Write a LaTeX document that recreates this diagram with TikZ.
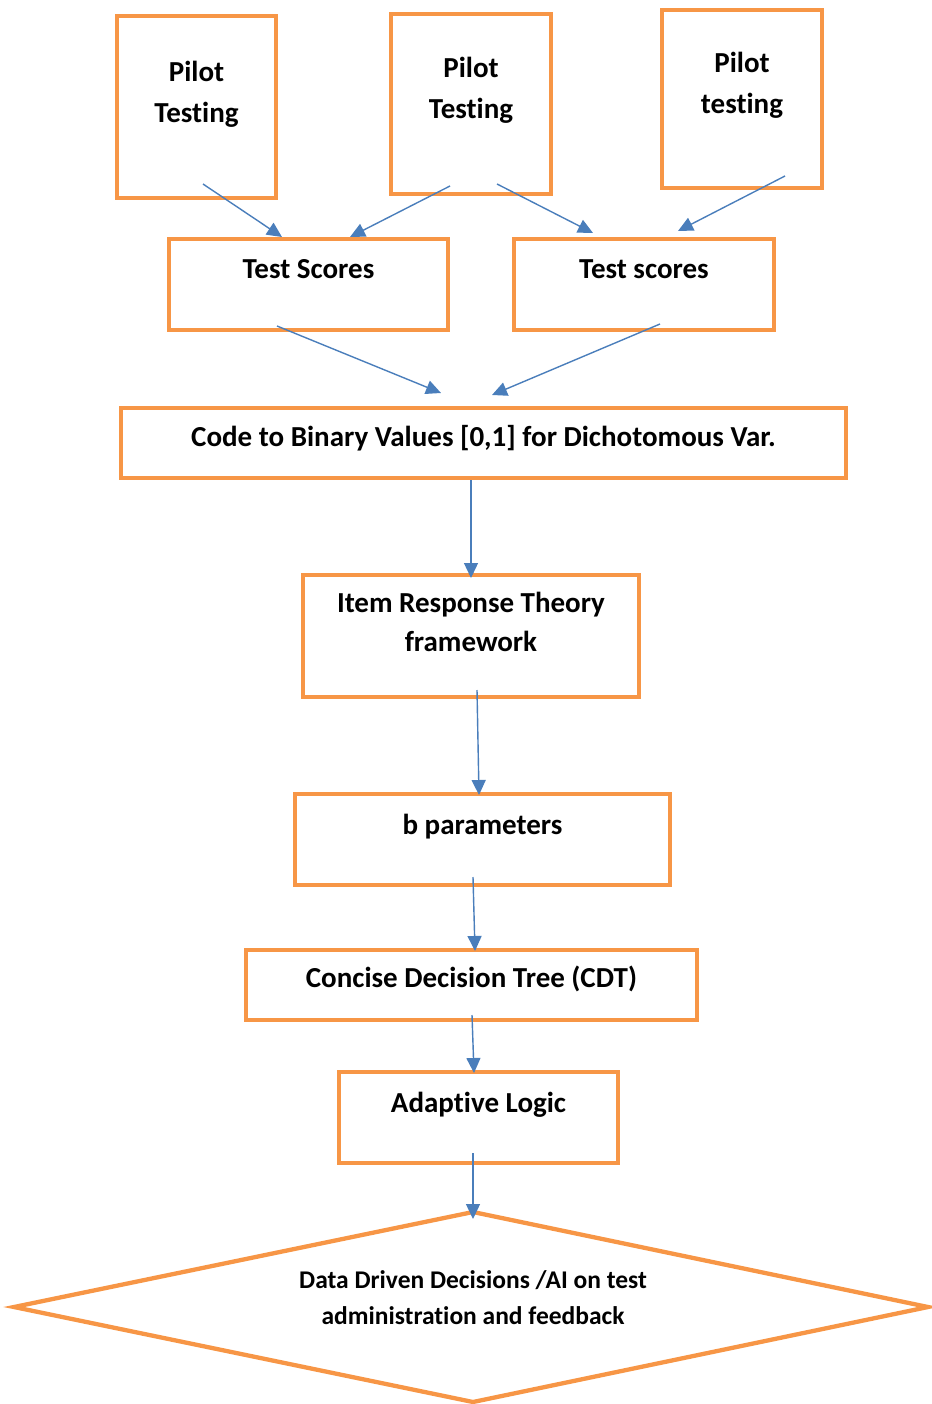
\documentclass[tikz,border=0pt]{standalone}
\usepackage{fontspec}
\setmainfont{Carlito}[Ligatures=NoCommon]
\usetikzlibrary{arrows.meta}
\definecolor{boxorange}{HTML}{F79646}
\definecolor{arrowblue}{HTML}{4A7EBB}
\begin{document}
\begin{tikzpicture}[x=1pt,y=-1pt,
  box/.style={draw=boxorange,line width=4.3pt,rectangle,inner sep=0pt},
  txt/.style={font=\fontsize{29}{41}\selectfont\bfseries,align=center,anchor=base,inner sep=0pt},
  dtxt/.style={font=\fontsize{25.5}{36}\selectfont\bfseries,align=center,anchor=base,inner sep=0pt},
  arr/.style={draw=arrowblue,line width=1.4pt,-{Triangle[length=15pt,width=14pt]}}]
\useasboundingbox (0,0) rectangle (931,1404);
% boxes
\node[box,minimum width=159pt,minimum height=182pt] (p1) at (196.5,107) {};
\node[box,minimum width=160pt,minimum height=180pt] (p2) at (471,104) {};
\node[box,minimum width=160pt,minimum height=178pt] (p3) at (742,99) {};
\node[box,minimum width=279pt,minimum height=91pt] (ts1) at (308.5,284.5) {};
\node[box,minimum width=260pt,minimum height=91pt] (ts2) at (644,284.5) {};
\node[box,minimum width=725pt,minimum height=70pt] (code) at (483.5,443) {};
\node[box,minimum width=336pt,minimum height=122pt] (irt) at (471,636) {};
\node[box,minimum width=375pt,minimum height=91pt] (bpar) at (482.5,839.5) {};
\node[box,minimum width=451pt,minimum height=70pt] (cdt) at (471.5,985) {};
\node[box,minimum width=279pt,minimum height=91pt] (adl) at (478.5,1117.5) {};
\coordinate (dtop) at (473,1212);
\coordinate (dright) at (928,1307);
\coordinate (dbot) at (473,1402);
\coordinate (dleft) at (14,1307);
\draw[draw=boxorange,line width=4.3pt,line join=miter] (dtop) -- (dright) -- (dbot) -- (dleft) -- cycle;
% texts (base anchor = baseline of last line)
\node[txt] (p1t) at (196.5,123) {Pilot\\Testing};
\node[txt] (p2t) at (471,119) {Pilot\\Testing};
\node[txt] (p3t) at (742,114) {Pilot\\testing};
\node[txt] (ts1t) at (308.5,279) {Test Scores};
\node[txt] (ts2t) at (644,279) {Test scores};
\node[txt] (codet) at (483.5,446) {Code to Binary Values [0,1] for Dichotomous Var.};
\node[txt,font=\fontsize{29}{39}\selectfont\bfseries] (irtt) at (471,651) {Item Response Theory\\framework};
\node[txt] (bpart) at (482.5,834) {b parameters};
\node[txt] (cdtt) at (471.5,987) {Concise Decision Tree (CDT)};
\node[txt] (adlt) at (478.5,1112) {Adaptive Logic};
\node[dtxt] (dt) at (473,1324) {Data Driven Decisions /AI on test\\administration and feedback};
% connector endpoints inside boxes
\coordinate (a1s) at (203,184);
\coordinate (a1e) at (282,237);
\coordinate (a2s) at (450,186);
\coordinate (a2e) at (350,237);
\coordinate (a3s) at (497,184);
\coordinate (a3e) at (593,233);
\coordinate (a4s) at (785,176);
\coordinate (a4e) at (678,231);
\coordinate (a5s) at (277,326);
\coordinate (a5e) at (441,393);
\coordinate (a6s) at (660,324);
\coordinate (a6e) at (492,395);
\coordinate (a7s) at (471,480);
\coordinate (a7e) at (471,578);
\coordinate (a8s) at (477,690);
\coordinate (a8e) at (479,795);
\coordinate (a9s) at (473,877);
\coordinate (a9e) at (475,951);
\coordinate (a10s) at (472,1015);
\coordinate (a10e) at (474,1073);
\coordinate (a11s) at (473,1153);
\coordinate (a11e) at (473,1219);
\foreach \i in {1,...,11} {\draw[arr] (a\i s) -- (a\i e);}
\end{tikzpicture}
\end{document}
